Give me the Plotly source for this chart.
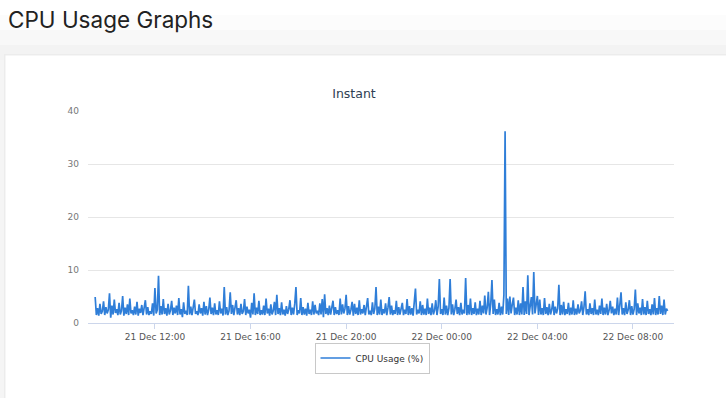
import pandas as pd
import plotly.graph_objects as go

# ---- data ----
start_time = "2023-12-21 09:30"
step = "3min"
cpu_usage = [
    4.9, 1.5, 2.8, 1.4, 3.6, 1.7, 2.2, 4.1, 1.5, 3.0, 1.8, 2.5, 5.6, 1.0, 3.3, 1.6, 4.4, 1.9, 2.6, 1.5,
    3.8, 1.6, 2.3, 5.1, 1.4, 2.9, 1.7, 3.5, 1.5, 4.6, 1.8, 2.4, 1.5, 3.1, 1.6, 4.0, 1.4, 2.7, 1.9, 3.4,
    1.5, 2.6, 4.3, 1.6, 3.0, 1.5, 2.2, 1.7, 3.7, 1.4, 6.6, 1.8, 2.5, 8.9, 1.5, 3.2, 1.6, 4.5, 1.7, 2.8,
    1.4, 3.6, 1.6, 2.4, 4.2, 1.5, 2.9, 1.8, 3.3, 1.5, 4.7, 1.6, 2.6, 1.1, 3.9, 1.7, 2.3, 1.5, 7.0, 1.6,
    3.1, 1.5, 2.7, 4.4, 1.7, 2.2, 1.5, 3.5, 1.8, 2.8, 1.4, 4.0, 1.6, 3.2, 1.5, 2.5, 4.8, 1.7, 2.9, 1.5,
    3.7, 1.6, 2.4, 1.5, 4.1, 1.8, 2.7, 1.4, 6.8, 1.6, 3.0, 1.5, 2.3, 5.8, 1.7, 3.4, 1.5, 2.6, 4.3, 1.6,
    2.8, 1.5, 3.6, 1.7, 2.2, 4.5, 1.5, 3.1, 1.8, 2.5, 1.0, 3.8, 1.6, 5.6, 1.5, 2.9, 1.7, 4.2, 1.5, 2.4,
    1.6, 3.3, 1.5, 4.6, 1.8, 2.7, 1.4, 3.5, 1.6, 2.3, 4.0, 1.5, 5.3, 1.7, 2.8, 1.5, 3.9, 1.6, 2.5, 1.4,
    3.2, 1.7, 2.6, 4.3, 1.5, 2.9, 1.6, 3.6, 6.8, 1.5, 2.4, 1.8, 4.7, 1.5, 3.0, 1.6, 2.7, 1.4, 3.8, 1.7,
    2.5, 1.5, 4.1, 1.6, 3.4, 1.8, 2.3, 1.5, 3.7, 1.6, 4.5, 1.1, 5.4, 1.7, 2.8, 1.5, 3.3, 1.6, 2.6, 4.2,
    1.5, 3.0, 1.7, 2.4, 1.5, 4.6, 1.6, 3.5, 1.8, 2.7, 5.3, 1.5, 3.2, 1.6, 2.5, 4.0, 1.4, 3.6, 1.7, 2.9,
    1.5, 4.3, 1.6, 2.6, 1.8, 3.4, 1.5, 2.8, 4.7, 1.6, 2.3, 1.5, 3.9, 1.7, 2.7, 6.8, 1.5, 3.1, 1.6, 4.4,
    1.5, 2.6, 1.8, 3.7, 1.5, 2.9, 4.9, 1.6, 3.3, 1.5, 2.4, 1.7, 4.2, 1.5, 3.0, 1.6, 2.7, 3.8, 1.5, 2.5,
    1.7, 4.5, 1.5, 3.2, 1.6, 2.8, 1.4, 3.6, 6.5, 1.6, 2.5, 1.8, 4.1, 1.5, 3.4, 1.6, 2.7, 1.5, 4.6, 1.7,
    2.9, 1.5, 3.7, 1.6, 2.4, 4.3, 1.5, 3.1, 8.3, 1.7, 2.6, 1.5, 4.8, 1.6, 3.3, 1.5, 2.8, 8.3, 1.6, 3.5,
    1.5, 2.6, 4.4, 1.7, 3.0, 1.5, 3.8, 1.6, 2.5, 1.8, 8.5, 1.5, 3.4, 1.6, 4.6, 1.5, 2.8, 1.7, 3.9, 1.5,
    2.7, 1.6, 4.2, 1.5, 3.3, 1.8, 5.2, 1.6, 2.9, 5.9, 1.5, 3.6, 8.1, 1.7, 4.4, 1.5, 2.6, 1.6, 3.8, 1.5,
    3.1, 1.6, 5.3, 36.2, 1.7, 4.6, 1.5, 5.0, 1.8, 3.5, 4.8, 1.5, 2.9, 1.6, 4.3, 1.5, 3.7, 1.6, 6.8, 1.5,
    4.1, 1.7, 9.0, 1.5, 3.6, 4.9, 1.6, 9.6, 1.8, 3.2, 5.1, 1.5, 4.4, 1.6, 2.8, 1.5, 4.7, 1.7, 3.0, 1.5,
    3.6, 1.6, 2.5, 4.2, 1.5, 3.1, 1.8, 2.7, 7.2, 1.5, 3.4, 1.6, 4.0, 1.5, 2.6, 1.7, 3.8, 1.5, 2.9, 1.6,
    4.3, 1.5, 2.7, 1.6, 3.5, 1.8, 2.4, 4.1, 1.5, 3.0, 6.0, 1.6, 2.6, 1.5, 3.7, 1.7, 2.8, 1.5, 4.4, 1.6,
    2.5, 1.5, 3.3, 1.7, 4.6, 1.5, 2.9, 1.6, 3.6, 1.5, 2.4, 4.2, 1.8, 3.1, 1.5, 2.7, 1.6, 4.8, 1.5, 3.4,
    5.8, 1.6, 2.8, 1.5, 3.9, 1.7, 2.5, 4.3, 1.5, 3.2, 1.6, 2.6, 6.3, 1.5, 3.7, 1.8, 2.9, 1.5, 4.5, 1.6,
    3.0, 1.5, 4.2, 1.7, 2.6, 1.5, 3.5, 1.6, 4.7, 1.5, 2.8, 1.6, 5.1, 1.7, 3.3, 1.5, 4.4, 1.6, 2.7, 2.3,
]
x_tick_vals = ["2023-12-21 12:00", "2023-12-21 16:00", "2023-12-21 20:00",
               "2023-12-22 00:00", "2023-12-22 04:00", "2023-12-22 08:00"]
x_tick_text = ["21 Dec 12:00", "21 Dec 16:00", "21 Dec 20:00",
               "22 Dec 00:00", "22 Dec 04:00", "22 Dec 08:00"]
y_tick_vals = [0, 10, 20, 30, 40]
series_name = "CPU Usage (%)"

times = pd.date_range(start=start_time, periods=len(cpu_usage), freq=step)

# ---- geometry helpers (pixel -> paper) ----
W, H = 726, 398
ML, MR, MT, MB = 88, 52, 111, 75
PW, PH = W - ML - MR, H - MT - MB


def px(x):
    return (x - ML) / PW


def py(y):
    return (H - MB - y) / PH


fig = go.Figure()
fig.add_trace(go.Scatter(
    x=times, y=cpu_usage, mode="lines", name=series_name,
    line=dict(color="#2f7ed8", width=1.7),
    hoverinfo="skip",
))

shapes = []
# page background gradient at top
bands = [(0, 15, "#ffffff"), (15, 30, "#fcfcfc"), (30, 45, "#f8f8f8"), (45, 60, "#f3f3f3")]
for y0, y1, c in bands:
    shapes.append(dict(type="rect", xref="paper", yref="paper", layer="below",
                       x0=px(-5), x1=px(W + 5), y0=py(y1), y1=py(y0),
                       fillcolor=c, line=dict(width=0)))
# card shadow and card
shapes.append(dict(type="rect", xref="paper", yref="paper", layer="below",
                   x0=px(4), x1=px(W + 20), y0=py(H + 20), y1=py(54),
                   fillcolor="#ececec", line=dict(width=0)))
shapes.append(dict(type="rect", xref="paper", yref="paper", layer="below",
                   x0=px(5.5), x1=px(W + 20), y0=py(H + 20), y1=py(55.5),
                   fillcolor="#ffffff", line=dict(width=0)))

fig.update_layout(
    width=W, height=H,
    margin=dict(l=ML, r=MR, t=MT, b=MB),
    paper_bgcolor="#f5f5f5",
    plot_bgcolor="rgba(0,0,0,0)",
    shapes=shapes,
    font=dict(family="DejaVu Sans", size=9, color="#666666"),
    title=dict(text="Instant", x=354 / W, xanchor="center", xref="container",
               y=1 - 94 / H, yanchor="middle", yref="container",
               font=dict(family="DejaVu Sans", size=12.5, color="#2e4053")),
    showlegend=True,
    legend=dict(x=px(372), y=py(358), xanchor="center", yanchor="middle",
                orientation="h", bgcolor="#ffffff", bordercolor="#c8c8c8",
                borderwidth=1, font=dict(family="DejaVu Sans", size=9, color="#333333"),
                itemwidth=30),
    annotations=[dict(text="CPU Usage Graphs", xref="paper", yref="paper",
                      x=px(6), y=py(20), xanchor="left", yanchor="middle",
                      showarrow=False,
                      font=dict(family="Inter", size=22.5, color="#222222"))],
    xaxis=dict(
        range=["2023-12-21 09:12", "2023-12-22 09:43"],
        tickvals=x_tick_vals, ticktext=x_tick_text,
        showgrid=False, showline=True, linecolor="#ccd6eb", linewidth=1,
        ticks="outside", ticklen=5, tickcolor="#ccd6eb",
        tickfont=dict(size=9, color="#555555"),
        zeroline=False, fixedrange=True,
    ),
    yaxis=dict(
        range=[0, 40], tickvals=y_tick_vals,
        showgrid=True, gridcolor="#e6e6e6", gridwidth=1,
        zeroline=False, ticks="", ticklabelstandoff=8,
        tickfont=dict(size=9, color="#777777"), fixedrange=True,
    ),
)

fig.write_html("out.html")
